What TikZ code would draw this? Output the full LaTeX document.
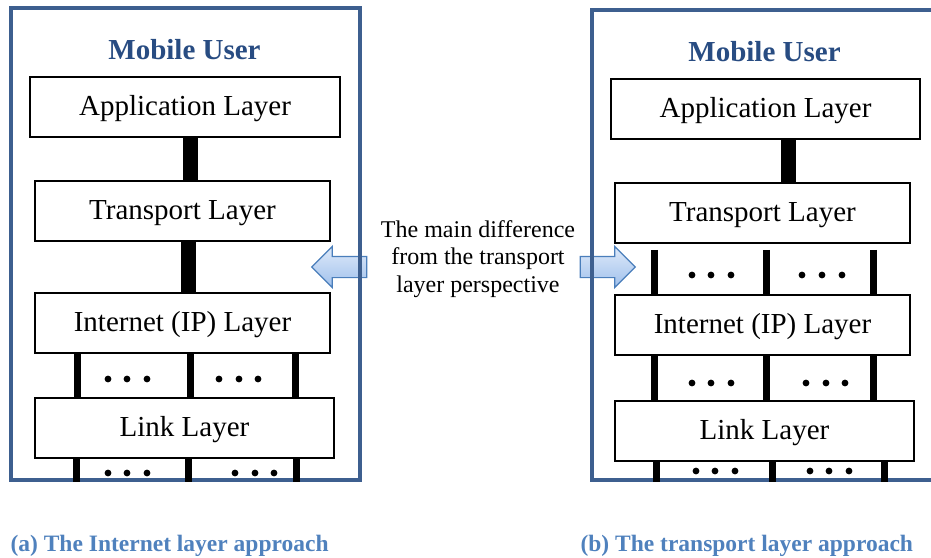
\documentclass[tikz,border=0pt]{standalone}
\usepackage{fontspec}
\setmainfont{Liberation Serif}
\usepackage{tikz}
\usetikzlibrary{shapes.arrows, calc}

\definecolor{frameblue}{RGB}{61,95,143}
\definecolor{titleblue}{RGB}{40,76,130}
\definecolor{captionblue}{RGB}{79,129,189}
\definecolor{arrowedge}{RGB}{74,126,187}
\definecolor{arrowtop}{RGB}{222,234,249}
\definecolor{arrowbottom}{RGB}{160,192,236}

\tikzset{
    layer-box/.style={
        draw, line width=1.6pt, rectangle, inner sep=0pt,
        text height=19.7pt, text depth=2.9pt,
        minimum height=60pt, font=\fontsize{29}{31}\selectfont
    },
    mobile-frame/.style={
        draw=frameblue, line width=3.5pt, rectangle, inner sep=0pt
    },
    mobile-title/.style={
        anchor=base, text=titleblue, font=\fontsize{29}{31}\selectfont\bfseries
    },
    thick-link/.style={line width=15pt},
    thin-link/.style={line width=7pt},
    diff-arrow/.style={
        single arrow, draw=arrowedge, line width=1.2pt,
        inner xsep=0pt, inner ysep=10pt,
        minimum width=40pt, minimum height=55pt,
        single arrow head extend=10pt,
        top color=arrowtop, bottom color=arrowbottom
    },
    caption/.style={
        anchor=base west, text=captionblue, font=\fontsize{23.5}{26}\selectfont\bfseries
    },
}

\begin{document}
\begin{tikzpicture}[x=1pt, y=-1pt]

        \useasboundingbox (0,0) rectangle (931,557);

        % ARROWS AND REMARK
        \node[diff-arrow, shape border rotate=180] (ARRA) at (344.5,267) {};
        \node[diff-arrow]                          (ARRB) at (602.5,267) {};
        \node[align=center, font=\fontsize{24}{27.5}\selectfont] (DIFF) at (478,259)
            {The main difference\\from the transport\\layer perspective};

        % (a) INTERNET LAYER APPROACH
        \node[mobile-frame, minimum width=349pt, minimum height=472pt] (FRAMEA) at (185.5,244) {};
        \node[mobile-title] (USERA) at (184.5,59) {Mobile User};
        \node[layer-box, minimum width=310pt] (APPA) at (185,107)   {Application Layer};
        \node[layer-box, minimum width=295pt] (TRA)  at (182.5,211) {Transport Layer};
        \node[layer-box, minimum width=295pt] (IPA)  at (182.5,323) {Internet (IP) Layer};
        \node[layer-box, minimum width=299pt] (LNKA) at (184.5,428) {Link Layer};

        \draw[thick-link] (APPA.south -| 190,0) -- (TRA.north -| 190,0);
        \draw[thick-link] (TRA.south -| 188,0)  -- (IPA.north -| 188,0);
        \foreach \x in {77,190,295}
            \draw[thin-link] (IPA.south -| \x,0) -- (LNKA.north -| \x,0);
        \foreach \x in {76,188,296}
            \draw[thin-link] (LNKA.south -| \x,0) -- (FRAMEA.south -| \x,0);
        \foreach \x in {108,127,147,219,239,258}
            \fill (\x,379) circle (3.4pt);
        \foreach \x in {108,127,147,235,255,274}
            \fill (\x,473) circle (3.4pt);

        % (b) TRANSPORT LAYER APPROACH
        \node[mobile-frame, minimum width=345pt, minimum height=470pt] (FRAMEB) at (764.5,245) {};
        \node[mobile-title] (USERB) at (764.5,61) {Mobile User};
        \node[layer-box, minimum width=309pt] (APPB) at (765.5,109) {Application Layer};
        \node[layer-box, minimum width=295pt] (TRB)  at (762.5,213) {Transport Layer};
        \node[layer-box, minimum width=295pt] (IPB)  at (762.5,325) {Internet (IP) Layer};
        \node[layer-box, minimum width=299pt] (LNKB) at (764.5,431) {Link Layer};

        \draw[thick-link] (APPB.south -| 788,0) -- (TRB.north -| 788,0);
        \foreach \x in {654,766,873}
            \draw[thin-link, shorten <=6pt] (TRB.south -| \x,0) -- (IPB.north -| \x,0);
        \foreach \x in {654,766,873}
            \draw[thin-link] (IPB.south -| \x,0) -- (LNKB.north -| \x,0);
        \foreach \x in {656,772,884}
            \draw[thin-link] (LNKB.south -| \x,0) -- (FRAMEB.south -| \x,0);
        \foreach \x in {692,711,731,802,822,842}
            \fill (\x,275) circle (3.4pt);
        \foreach \x in {692,711,731,806,826,845}
            \fill (\x,383) circle (3.4pt);
        \foreach \x in {696,715,735,810,829,849}
            \fill (\x,471) circle (3.4pt);

        % CAPTIONS
        \node[caption] (CAPA) at (7,551)   {(a) The Internet layer approach};
        \node[caption] (CAPB) at (577,551) {(b) The transport layer approach};

    \end{tikzpicture}
\end{document}
